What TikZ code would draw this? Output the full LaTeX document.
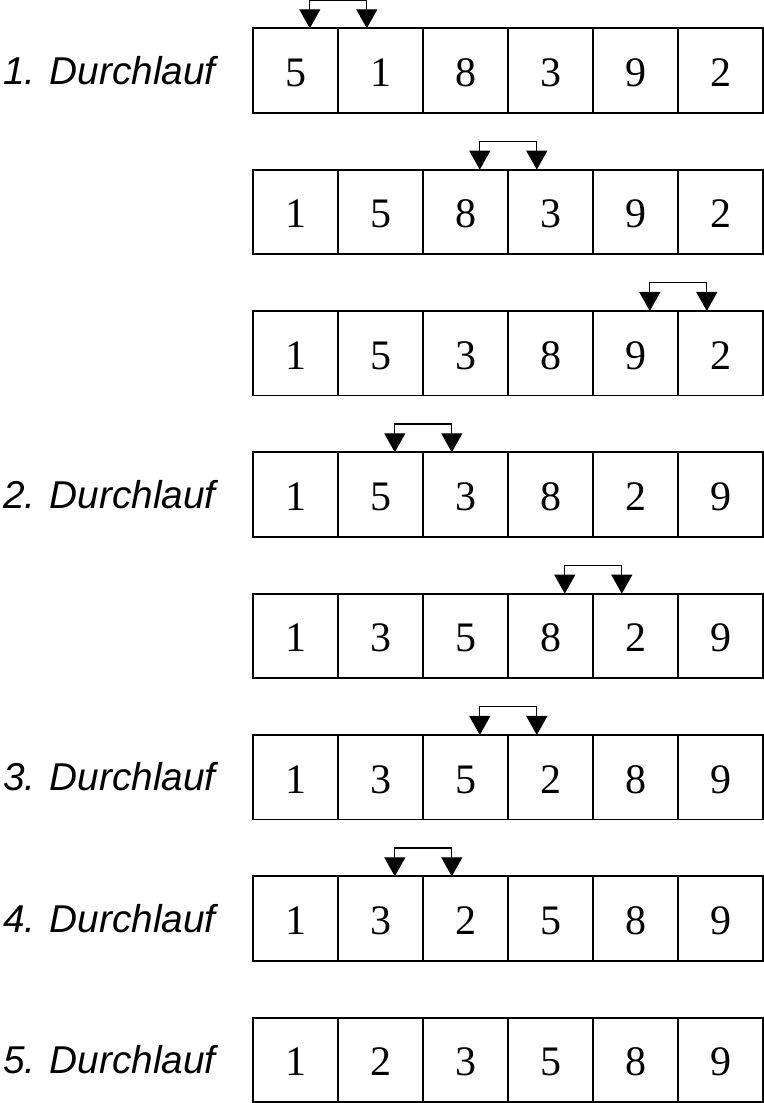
\documentclass[tikz,border=0pt]{standalone}
\usepackage{fontspec}
\setmainfont{Liberation Serif}
\setsansfont{Liberation Sans}
\usetikzlibrary{arrows.meta}

\tikzset{
  zelle/.style={draw=black, line width=1.8pt, minimum width=85pt, minimum height=84.5pt,
    inner sep=0pt, outer sep=0pt, font=\fontsize{42}{42}\selectfont,
    text height=31.9pt, text depth=0pt},
  lauf/.style={anchor=base west, inner sep=0pt, outer sep=0pt,
    font=\sffamily\itshape\fontsize{38.8}{38.8}\selectfont},
  tausch/.style={draw=black, line width=1.2pt,
    {Triangle[width=21pt,length=19pt]}-{Triangle[width=21pt,length=19pt]}}
}

\begin{document}
\begin{tikzpicture}[x=1pt,y=1pt]
\useasboundingbox (0,0) rectangle (763,1103);

% row 1
\node[zelle] (r1c1) at (295.8,1032.45) {5};
\node[zelle] (r1c2) at (380.8,1032.45) {1};
\node[zelle] (r1c3) at (465.8,1032.45) {8};
\node[zelle] (r1c4) at (550.8,1032.45) {3};
\node[zelle] (r1c5) at (635.8,1032.45) {9};
\node[zelle] (r1c6) at (720.8,1032.45) {2};
\node[lauf] (l1) at (3,1018.7) {1. Durchlauf};
\draw[tausch] ([xshift=14pt]r1c1.north) -- ++(0,28.3) -| ([xshift=-14pt]r1c2.north);

% row 2
\node[zelle] (r2c1) at (295.8,891.11) {1};
\node[zelle] (r2c2) at (380.8,891.11) {5};
\node[zelle] (r2c3) at (465.8,891.11) {8};
\node[zelle] (r2c4) at (550.8,891.11) {3};
\node[zelle] (r2c5) at (635.8,891.11) {9};
\node[zelle] (r2c6) at (720.8,891.11) {2};
\draw[tausch] ([xshift=14pt]r2c3.north) -- ++(0,28.3) -| ([xshift=-14pt]r2c4.north);

% row 3
\node[zelle] (r3c1) at (295.8,749.77) {1};
\node[zelle] (r3c2) at (380.8,749.77) {5};
\node[zelle] (r3c3) at (465.8,749.77) {3};
\node[zelle] (r3c4) at (550.8,749.77) {8};
\node[zelle] (r3c5) at (635.8,749.77) {9};
\node[zelle] (r3c6) at (720.8,749.77) {2};
\draw[tausch] ([xshift=14pt]r3c5.north) -- ++(0,28.3) -| ([xshift=-14pt]r3c6.north);

% row 4
\node[zelle] (r4c1) at (295.8,608.43) {1};
\node[zelle] (r4c2) at (380.8,608.43) {5};
\node[zelle] (r4c3) at (465.8,608.43) {3};
\node[zelle] (r4c4) at (550.8,608.43) {8};
\node[zelle] (r4c5) at (635.8,608.43) {2};
\node[zelle] (r4c6) at (720.8,608.43) {9};
\node[lauf] (l2) at (3,594.68) {2. Durchlauf};
\draw[tausch] ([xshift=14pt]r4c2.north) -- ++(0,28.3) -| ([xshift=-14pt]r4c3.north);

% row 5
\node[zelle] (r5c1) at (295.8,467.09) {1};
\node[zelle] (r5c2) at (380.8,467.09) {3};
\node[zelle] (r5c3) at (465.8,467.09) {5};
\node[zelle] (r5c4) at (550.8,467.09) {8};
\node[zelle] (r5c5) at (635.8,467.09) {2};
\node[zelle] (r5c6) at (720.8,467.09) {9};
\draw[tausch] ([xshift=14pt]r5c4.north) -- ++(0,28.3) -| ([xshift=-14pt]r5c5.north);

% row 6
\node[zelle] (r6c1) at (295.8,325.75) {1};
\node[zelle] (r6c2) at (380.8,325.75) {3};
\node[zelle] (r6c3) at (465.8,325.75) {5};
\node[zelle] (r6c4) at (550.8,325.75) {2};
\node[zelle] (r6c5) at (635.8,325.75) {8};
\node[zelle] (r6c6) at (720.8,325.75) {9};
\node[lauf] (l3) at (3,312.0) {3. Durchlauf};
\draw[tausch] ([xshift=14pt]r6c3.north) -- ++(0,28.3) -| ([xshift=-14pt]r6c4.north);

% row 7
\node[zelle] (r7c1) at (295.8,184.41) {1};
\node[zelle] (r7c2) at (380.8,184.41) {3};
\node[zelle] (r7c3) at (465.8,184.41) {2};
\node[zelle] (r7c4) at (550.8,184.41) {5};
\node[zelle] (r7c5) at (635.8,184.41) {8};
\node[zelle] (r7c6) at (720.8,184.41) {9};
\node[lauf] (l4) at (3,170.66) {4. Durchlauf};
\draw[tausch] ([xshift=14pt]r7c2.north) -- ++(0,28.3) -| ([xshift=-14pt]r7c3.north);

% row 8
\node[zelle] (r8c1) at (295.8,43.07) {1};
\node[zelle] (r8c2) at (380.8,43.07) {2};
\node[zelle] (r8c3) at (465.8,43.07) {3};
\node[zelle] (r8c4) at (550.8,43.07) {5};
\node[zelle] (r8c5) at (635.8,43.07) {8};
\node[zelle] (r8c6) at (720.8,43.07) {9};
\node[lauf] (l5) at (3,29.32) {5. Durchlauf};
\end{tikzpicture}
\end{document}
